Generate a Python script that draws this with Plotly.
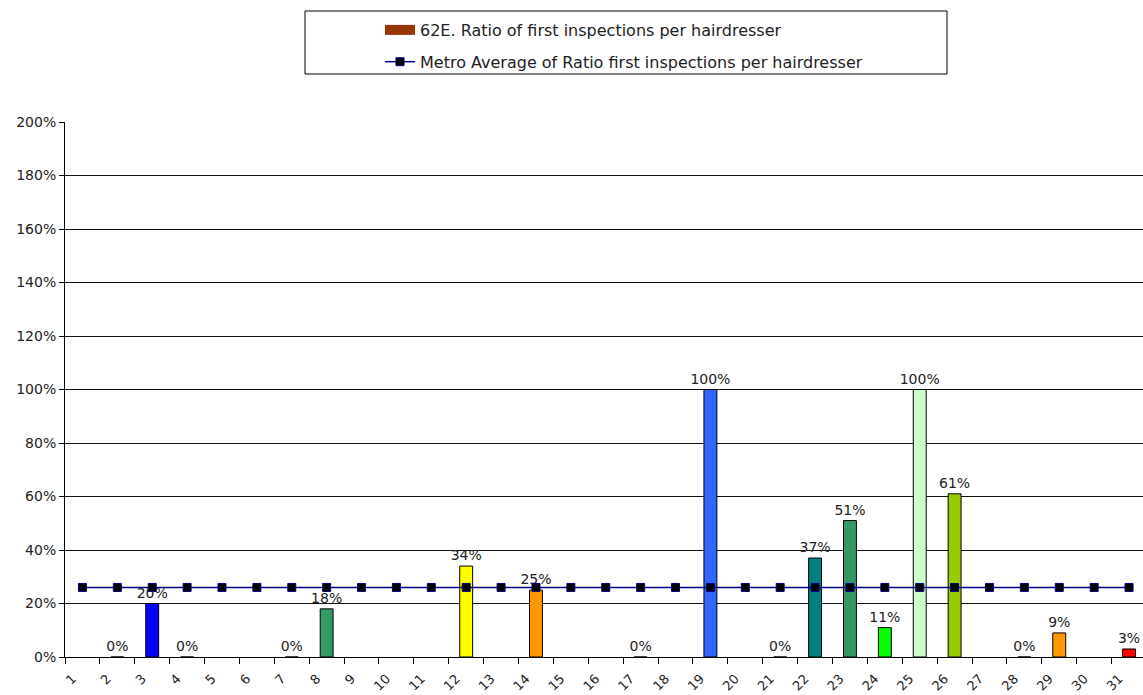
import plotly.graph_objects as go

# Areas 1..31 and their ratio of first inspections per hairdresser (None = no data)
areas = [str(i) for i in range(1, 32)]
ratio = [None, 0.0, 0.20, 0.0, None, None, 0.0, 0.18, None, None,
         None, 0.34, None, 0.25, None, None, 0.0, None, 1.00, None,
         0.0, 0.37, 0.51, 0.11, 1.00, 0.61, None, 0.0, 0.09, None,
         0.03]
metro_avg = [0.26] * 31

bar_colors = ["#993300", "#993300", "#0000FF", "#993300", "#993300", "#993300",
              "#993300", "#339966", "#993300", "#993300", "#993300", "#FFFF00",
              "#993300", "#FF9900", "#993300", "#993300", "#993300", "#993300",
              "#3366FF", "#993300", "#993300", "#008080", "#339966", "#00FF00",
              "#CCFFCC", "#99CC00", "#993300", "#993300", "#FF9900", "#993300",
              "#FF0000"]

FONT = "DejaVu Sans, Arial, sans-serif"
TXT = "#222"
W, H = 1143, 695
L, R, T, B = 65, 0, 122, 38
pw, ph = W - L - R, H - T - B


def px_x(v):
    return (v - L) / pw


def px_y(v):
    return (H - B - v) / ph


fig = go.Figure()

# legend swatch for the ratio series (thick brown stroke)
fig.add_trace(go.Scatter(
    x=[None], y=[None], mode="lines", legendgroup="a",
    name="62E. Ratio of first inspections per hairdresser",
    line=dict(color="#993300", width=10),
))

fig.add_trace(go.Bar(
    x=areas, y=ratio, showlegend=False, width=0.37,
    marker=dict(color=bar_colors, line=dict(color="black", width=1)),
    texttemplate="%{y:.0%}", textposition="outside", cliponaxis=False,
    constraintext="none",
    textfont=dict(family=FONT, size=14, color=TXT),
    hoverinfo="x+y",
))

fig.add_trace(go.Scatter(
    x=areas, y=metro_avg, mode="lines+markers", legendgroup="b",
    name="Metro Average of Ratio first inspections per hairdresser",
    line=dict(color="#000080", width=1.5),
    marker=dict(symbol="square", size=8, color="black",
                line=dict(color="#000080", width=1)),
))

fig.update_layout(
    width=W, height=H,
    margin=dict(l=L, r=R, t=T, b=B),
    paper_bgcolor="white", plot_bgcolor="white",
    font=dict(family=FONT, size=14, color=TXT),
    showlegend=True,
    legend=dict(
        x=px_x(380), xanchor="left", y=px_y(13), yanchor="top",
        bgcolor="rgba(0,0,0,0)", borderwidth=0,
        font=dict(family=FONT, size=16, color=TXT),
        tracegroupgap=8, itemwidth=30,
    ),
    shapes=[dict(
        type="rect", xref="paper", yref="paper",
        x0=px_x(305), x1=px_x(947), y0=px_y(74), y1=px_y(11),
        line=dict(color="black", width=1), fillcolor="rgba(0,0,0,0)",
    )],
    xaxis=dict(
        type="category", range=[-0.5, 30.4],
        tickson="boundaries", ticks="outside", ticklen=6, tickcolor="black",
        tickangle=-45, ticklabelshift=-10, ticklabelstandoff=8,
        showgrid=False, showline=True, linecolor="black",
        tickfont=dict(family=FONT, size=13, color=TXT),
    ),
    yaxis=dict(
        range=[0, 2.0], dtick=0.2, tickformat=".0%",
        showgrid=True, gridcolor="#111", gridwidth=1,
        showline=True, linecolor="black", linewidth=1,
        ticks="outside", ticklen=5, tickcolor="black",
        zeroline=False,
        tickfont=dict(family=FONT, size=14, color=TXT),
    ),
)

fig.write_html("out.html")
